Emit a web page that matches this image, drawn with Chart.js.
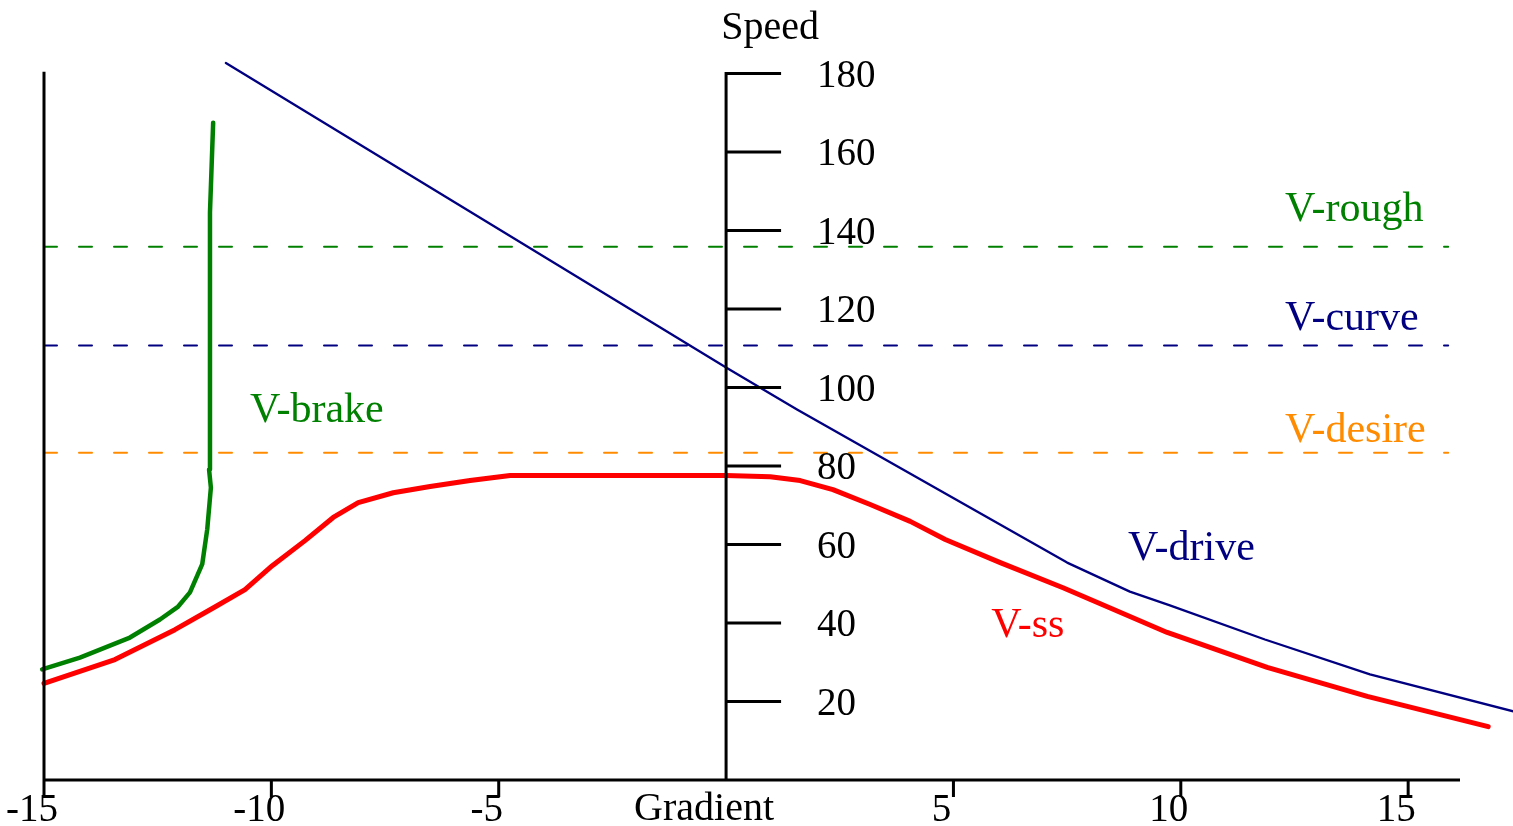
<!DOCTYPE html>
<html>
<head>
<meta charset="utf-8">
<title>Speed vs Gradient</title>
<script src="https://cdn.jsdelivr.net/npm/chart.js@4.4.1/dist/chart.umd.min.js"></script>
<style>
  body { margin: 0; background: #fff; }
  canvas { display: block; }
</style>
</head>
<body>
<canvas id="speedChart" width="1513" height="826"></canvas>
<script>
// gradient (%) on x, speed on y
const driveGrad = [-11.0, 0, 1.56, 7.5, 8.88, 9.76, 11.85, 14.16, 17.31]
const driveSpeed = [182.7, 105.1, 94.4, 55.4, 48.0, 44.5, 35.8, 26.9, 17.5]

const ssGrad = [-15.0, -13.44, -12.12, -11.30, -10.58, -9.98, -9.26, -8.64, -8.09, -7.32, -6.51, -5.63, -4.75, 0, 0.97, 1.63, 2.35, 3.17, 4.05, 4.82, 6.03, 7.41, 8.23, 9.70, 11.90, 14.10, 16.76]
const ssSpeed = [24.6, 30.7, 38.3, 43.7, 48.5, 54.6, 61.0, 66.9, 70.7, 73.2, 74.8, 76.3, 77.6, 77.6, 77.3, 76.3, 74.0, 70.2, 65.9, 61.3, 55.4, 49.0, 44.9, 37.6, 28.7, 21.3, 13.6]

const brakeGrad = [-15.04, -14.21, -13.11, -12.45, -12.05, -11.79, -11.52, -11.41, -11.33, -11.37, -11.35, -11.28]
const brakeSpeed = [28.2, 31.2, 36.3, 40.9, 44.2, 47.8, 55.0, 63.9, 74.5, 79.1, 144.6, 167.5]

// constant speed limits
const limitNames = ['V-rough', 'V-curve', 'V-desire']
const limitSpeed = [135.9, 110.7, 83.4]
const limitSpan = [-15, 15.88]

const xTicks = [-15, -10, -5, 5, 10, 15]
const yTicks = [20, 40, 60, 80, 100, 120, 140, 160, 180]

const xMin = -15, xMax = 16.14
const yMin = 0, yMax = 185

const serif = '"Liberation Serif", "Times New Roman", serif'
const navy = '#000080', green = '#008000', red = '#ff0000', orange = '#ff8c00'
const limitColors = [green, navy, orange]

const pts = (xs, ys) => xs.map((x, i) => ({ x: x, y: ys[i] }))

// curve names, anchored in data units (left edge, vertical middle)
const curveLabels = [
  { text: 'V-rough', x: 12.29, y: 145.9, color: green },
  { text: 'V-curve', x: 12.29, y: 118.3, color: navy },
  { text: 'V-desire', x: 12.29, y: 89.8, color: orange },
  { text: 'V-brake', x: -10.47, y: 94.9, color: green },
  { text: 'V-drive', x: 8.84, y: 59.7, color: navy },
  { text: 'V-ss', x: 5.83, y: 39.9, color: red }
]

const datasets = limitNames.map((name, i) => ({
  label: name,
  data: pts(limitSpan, [limitSpeed[i], limitSpeed[i]]),
  borderColor: limitColors[i],
  borderWidth: 2,
  borderDash: [13, 22]
}))
datasets.push({ label: 'V-drive', data: pts(driveGrad, driveSpeed), borderColor: navy, borderWidth: 2.3 })
datasets.push({ label: 'V-ss', data: pts(ssGrad, ssSpeed), borderColor: red, borderWidth: 5 })
datasets.push({ label: 'V-brake', data: pts(brakeGrad, brakeSpeed), borderColor: green, borderWidth: 4.5 })

const axesPlugin = {
  id: 'crossAxes',
  afterDatasetsDraw(chart) {
    const { ctx, scales: { x, y } } = chart
    const x0 = x.getPixelForValue(0)
    const y0 = y.getPixelForValue(0)
    const left = x.getPixelForValue(xMin)
    const right = x.getPixelForValue(xMax)
    ctx.save()
    ctx.strokeStyle = '#000'
    ctx.lineWidth = 3
    ctx.beginPath()
    // left border and gradient axis
    ctx.moveTo(left, y.getPixelForValue(180.5))
    ctx.lineTo(left, y0)
    ctx.lineTo(right, y0)
    // speed axis at zero gradient, top tick joined to it
    const top = y.getPixelForValue(180)
    ctx.moveTo(x0 + 55, top)
    ctx.lineTo(x0, top)
    ctx.lineTo(x0, y0)
    yTicks.forEach(v => {
      const py = y.getPixelForValue(v)
      ctx.moveTo(x0, py)
      ctx.lineTo(x0 + 55, py)
    })
    xTicks.forEach(v => {
      const px = x.getPixelForValue(v)
      ctx.moveTo(px, y0)
      ctx.lineTo(px, y0 + 17)
    })
    ctx.stroke()

    // text sits a little low of the 'middle' baseline
    const dy = 3
    ctx.fillStyle = '#000'
    ctx.font = '39px ' + serif
    ctx.textBaseline = 'middle'
    ctx.textAlign = 'left'
    yTicks.forEach(v => ctx.fillText(String(v), x0 + 91, y.getPixelForValue(v) + dy))
    ctx.textAlign = 'center'
    xTicks.forEach(v => ctx.fillText(String(v), x.getPixelForValue(v) - 12, y0 + 28 + dy))
    ctx.font = '40px ' + serif
    ctx.fillText('Gradient', x0 - 22, y0 + 26 + dy)
    ctx.fillText('Speed', x0 + 44, top - 48 + dy)

    ctx.font = '42px ' + serif
    ctx.textAlign = 'left'
    curveLabels.forEach(l => {
      ctx.fillStyle = l.color
      ctx.fillText(l.text, x.getPixelForValue(l.x), y.getPixelForValue(l.y) + dy)
    })
    ctx.restore()
  }
}

new Chart(document.getElementById('speedChart'), {
  type: 'line',
  data: { datasets: datasets },
  options: {
    responsive: false,
    animation: false,
    devicePixelRatio: 1,
    layout: { padding: { left: 44, right: 53, top: 54, bottom: 46 } },
    elements: {
      point: { radius: 0 },
      line: { tension: 0, fill: false, borderJoinStyle: 'round', borderCapStyle: 'round' }
    },
    datasets: { line: { clip: false } },
    plugins: { legend: { display: false }, tooltip: { enabled: false } },
    scales: {
      x: { type: 'linear', min: xMin, max: xMax, display: false },
      y: { type: 'linear', min: yMin, max: yMax, display: false }
    }
  },
  plugins: [axesPlugin]
})
</script>
</body>
</html>
